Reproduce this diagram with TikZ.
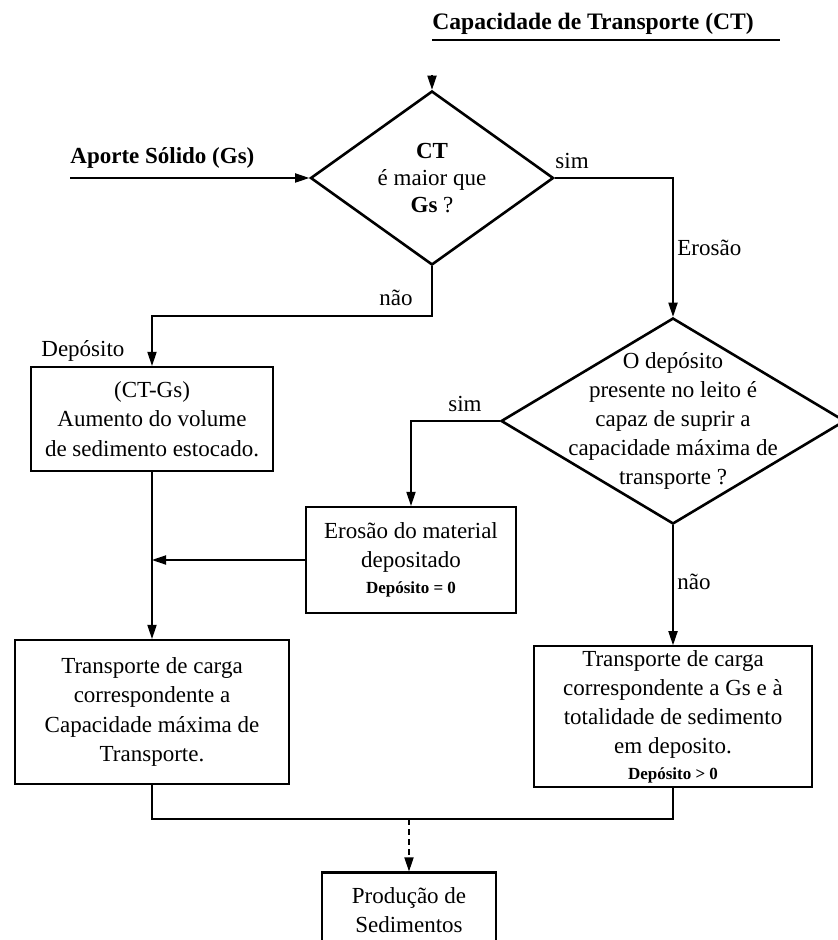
\documentclass[tikz,border=0pt]{standalone}
\usepackage{fontspec}
\setmainfont{Liberation Serif}
\usetikzlibrary{shapes.geometric, arrows.meta}

\begin{document}
\begin{tikzpicture}[
  x=0.5pt, y=-0.5pt,
  every node/.style={font=\fontsize{11.5}{14.6}\selectfont},
  box/.style={rectangle, draw, line width=1.1pt, align=center, inner sep=2pt},
  decision/.style={diamond, draw, line width=1.3pt, inner sep=0pt},
  txt/.style={align=center, inner sep=0pt},
  lbl/.style={inner sep=0pt},
  line/.style={line width=0.6pt},
  arr/.style={line, -{Triangle[length=7pt,width=4.6pt]}}
]
  \useasboundingbox (0,0) rectangle (837,940);

  % title
  \node[lbl, anchor=base west, font=\fontsize{11.8}{14}\selectfont\bfseries] (ct) at (432,30) {Capacidade de Transporte (CT)};
  \draw[line width=1pt] (432,40) -- (780,40);
  \coordinate (ctin) at (432,75);

  % decisions
  \node[decision, minimum width=121.5pt, minimum height=87pt] (d1) at (432,178) {};
  \node[txt, font=\fontsize{11.5}{13.5}\selectfont] (d1txt) at (d1.center) {\textbf{CT}\\é maior que\\\textbf{Gs} ?};
  \node[lbl, anchor=base west, font=\fontsize{11.5}{14}\selectfont\bfseries] (gs) at (70,164) {Aporte Sólido (Gs)};
  \coordinate (gsin) at (70,178);

  \node[decision, minimum width=172pt, minimum height=103pt] (d2) at (673,421) {};
  \node[txt] (d2txt) at (d2.center) {O depósito\\presente no leito é\\capaz de suprir a\\capacidade máxima de\\transporte ?};

  % boxes
  \node[box, minimum width=121pt, minimum height=52pt] (dep) at (152,419) {(CT-Gs)\\Aumento do volume\\de sedimento estocado.};
  \node[box, minimum width=105pt, minimum height=53pt] (ero) at (411,560) {Erosão do material\\depositado\\[-1.5pt]{\fontsize{8.5}{10}\selectfont\bfseries Depósito = 0}};
  \node[box, minimum width=137pt, minimum height=72pt] (tcap) at (152,712) {Transporte de carga\\correspondente a\\Capacidade máxima de\\Transporte.};
  \node[box, minimum width=139pt, minimum height=69.5pt] (ttot) at (673,716.5) {Transporte de carga\\correspondente a Gs e à\\totalidade de sedimento\\em deposito.\\[-2pt]{\fontsize{8.5}{10}\selectfont\bfseries Depósito > 0}};
  \node[box, minimum width=87pt, minimum height=37.5pt] (prod) at (409,910) {Produção de\\Sedimentos};

  % labels
  \node[lbl, anchor=base west] (simA) at (555,169) {sim};
  \node[lbl, anchor=base west] (erosao) at (677,256) {Erosão};
  \node[lbl, anchor=base east] (naoA) at (413,306) {não};
  \node[lbl, anchor=base west] (depo) at (41,357) {Depósito};
  \node[lbl, anchor=base] (simB) at (465,411) {sim};
  \node[lbl, anchor=base west] (naoB) at (677,589) {não};

  % connectors
  \coordinate (kn) at (432,316);
  \coordinate (jn) at (409,819);
  \draw[arr] (ctin) -- (d1.north);
  \draw[arr] (gsin) -- (d1.west);
  \draw[arr] (d1.east) -| (d2.north);
  \draw[arr] (d1.south) -- (kn) -| (dep.north);
  \draw[arr] (d2.west) -| (ero.north);
  \draw[arr] (d2.south) -- (ttot.north);
  \draw[arr] (dep.south) -- (tcap.north);
  \draw[arr] (ero.west) -- (ero.west -| dep.south);
  \draw[line] (tcap.south) |- (jn) -| (ttot.south);
  \draw[arr, densely dashed] (jn) -- (prod.north);
\end{tikzpicture}
\end{document}
